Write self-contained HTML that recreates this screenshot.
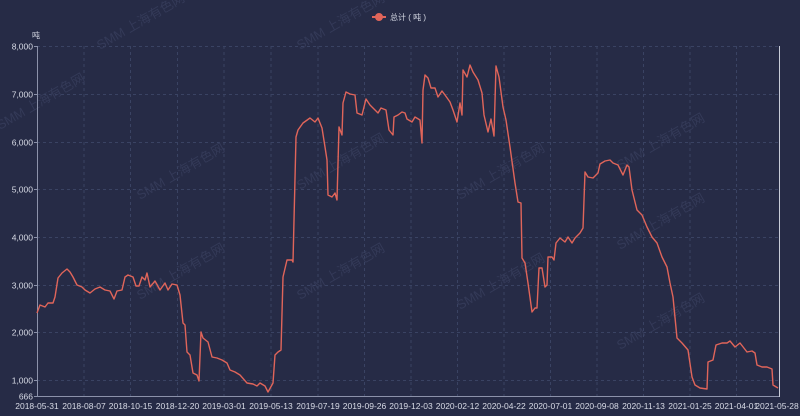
<!DOCTYPE html>
<html><head><meta charset="utf-8"><style>
html,body{margin:0;padding:0;background:#262b46;}
svg{display:block;font-family:"Liberation Sans","Noto Sans CJK SC",sans-serif;}
</style></head><body>
<svg width="800" height="416" viewBox="0 0 800 416">
<rect width="800" height="416" fill="#262b46"/>
<g stroke="#3a4363" stroke-width="1" stroke-dasharray="3,3">
<line x1="37" y1="46.5" x2="779" y2="46.5"/><line x1="37" y1="94.5" x2="779" y2="94.5"/><line x1="37" y1="142.5" x2="779" y2="142.5"/><line x1="37" y1="189.5" x2="779" y2="189.5"/><line x1="37" y1="237.5" x2="779" y2="237.5"/><line x1="37" y1="285.5" x2="779" y2="285.5"/><line x1="37" y1="332.5" x2="779" y2="332.5"/><line x1="37" y1="380.5" x2="779" y2="380.5"/>
<line x1="84" y1="46" x2="84" y2="396"/><line x1="130.5" y1="46" x2="130.5" y2="396"/><line x1="177.5" y1="46" x2="177.5" y2="396"/><line x1="224" y1="46" x2="224" y2="396"/><line x1="271" y1="46" x2="271" y2="396"/><line x1="318" y1="46" x2="318" y2="396"/><line x1="364.5" y1="46" x2="364.5" y2="396"/><line x1="411" y1="46" x2="411" y2="396"/><line x1="457.5" y1="46" x2="457.5" y2="396"/><line x1="504" y1="46" x2="504" y2="396"/><line x1="550.5" y1="46" x2="550.5" y2="396"/><line x1="597" y1="46" x2="597" y2="396"/><line x1="643.5" y1="46" x2="643.5" y2="396"/><line x1="690" y1="46" x2="690" y2="396"/><line x1="736.5" y1="46" x2="736.5" y2="396"/>
</g>
<g fill="#343a58" font-size="13">
<text transform="translate(100,50) rotate(-30)">SMM 上海有色网</text>
<text transform="translate(300,50) rotate(-30)">SMM 上海有色网</text>
<text transform="translate(0,130) rotate(-30)">SMM 上海有色网</text>
<text transform="translate(140,200) rotate(-30)">SMM 上海有色网</text>
<text transform="translate(300,190) rotate(-30)">SMM 上海有色网</text>
<text transform="translate(460,200) rotate(-30)">SMM 上海有色网</text>
<text transform="translate(620,170) rotate(-30)">SMM 上海有色网</text>
<text transform="translate(140,300) rotate(-30)">SMM 上海有色网</text>
<text transform="translate(300,300) rotate(-30)">SMM 上海有色网</text>
<text transform="translate(460,310) rotate(-30)">SMM 上海有色网</text>
<text transform="translate(620,250) rotate(-30)">SMM 上海有色网</text>
<text transform="translate(620,350) rotate(-30)">SMM 上海有色网</text>
</g>
<line x1="37.5" y1="46" x2="37.5" y2="397" stroke="#8c92aa" stroke-width="1"/>
<line x1="37" y1="396.5" x2="779" y2="396.5" stroke="#8c92aa" stroke-width="1"/>
<line x1="779.5" y1="46" x2="779.5" y2="397" stroke="#c8ccd8" stroke-width="1"/>
<g stroke="#8c92aa"><line x1="34" y1="46.5" x2="37" y2="46.5"/><line x1="34" y1="94.5" x2="37" y2="94.5"/><line x1="34" y1="142.5" x2="37" y2="142.5"/><line x1="34" y1="189.5" x2="37" y2="189.5"/><line x1="34" y1="237.5" x2="37" y2="237.5"/><line x1="34" y1="285.5" x2="37" y2="285.5"/><line x1="34" y1="332.5" x2="37" y2="332.5"/><line x1="34" y1="380.5" x2="37" y2="380.5"/><line x1="34" y1="396.5" x2="37" y2="396.5"/></g>
<g fill="#d8dbe6" font-size="8.5" text-anchor="end">
<text x="33" y="49.5">8,000</text><text x="33" y="97.5">7,000</text><text x="33" y="145.5">6,000</text><text x="33" y="192.5">5,000</text><text x="33" y="240.5">4,000</text><text x="33" y="288.5">3,000</text><text x="33" y="335.5">2,000</text><text x="33" y="383.5">1,000</text><text x="33" y="399.5">666</text>
</g>
<text x="32" y="38" fill="#d8dbe6" font-size="8">吨</text>
<g fill="#d8dbe6" font-size="8.5" text-anchor="middle">
<text x="37" y="409">2018-05-31</text><text x="84" y="409">2018-08-07</text><text x="130.5" y="409">2018-10-15</text><text x="177.5" y="409">2018-12-20</text><text x="224" y="409">2019-03-01</text><text x="271" y="409">2019-05-13</text><text x="318" y="409">2019-07-19</text><text x="364.5" y="409">2019-09-26</text><text x="411" y="409">2019-12-03</text><text x="457.5" y="409">2020-02-12</text><text x="504" y="409">2020-04-22</text><text x="550.5" y="409">2020-07-01</text><text x="597" y="409">2020-09-08</text><text x="643.5" y="409">2020-11-13</text><text x="690" y="409">2021-01-25</text><text x="736.5" y="409">2021-04-01</text><text x="777" y="409">2021-05-28</text>
</g>
<line x1="372" y1="17" x2="386" y2="17" stroke="#e0655a" stroke-width="2"/>
<circle cx="379" cy="17" r="4" fill="#e0655a"/>
<text x="390" y="20" fill="#d8dbe6" font-size="8">总计 ( 吨 )</text>
<polyline fill="none" stroke="#e0655a" stroke-width="1.4" stroke-linejoin="round" points="37,313 40,305 45,307 48,303 53,303 55,297 58,278 62,273 67,269 70,272 73,277 77,285 82,287 85,290 90,293 95,289 100,287 105,290 110,291 114,299 117,291 122,290 125,277 128,275 133,277 136,286 139,286 142,277 145,280 147,273 150,287 155,281 160,290 165,283 168,290 172,284 177,285 180,295 183,323 185,325 187,352 190,355 193,373 197,375 199,381 201,332 203,338 208,342 212,357 217,358 222,360 227,363 230,370 235,372 240,375 247,383 253,384 257,386 260,383 265,386 268,392 273,383 275,355 278,352 281,350 283,277 287,260 290,260 292,260 293,262 296,137 298,130 303,123 310,118 315,122 318,118 322,128 325,147 327,160 328,195 332,197 335,193 337,200 339,127 342,135 343,103 346,92 350,94 355,95 357,113 362,115 366,99 370,105 375,110 378,113 381,108 386,110 389,130 393,135 394,117 398,115 402,112 405,113 407,119 412,122 415,117 420,120 422,143 423,90 425,75 428,78 431,88 435,88 438,97 442,91 445,95 450,102 453,110 457,122 460,103 462,115 463,70 467,77 470,65 473,72 478,80 482,93 484,115 488,132 491,119 494,136 496,66 499,77 503,107 506,120 510,147 515,183 518,202 521,203 522,258 525,263 528,283 532,312 535,308 537,308 539,268 542,268 545,287 547,285 548,257 552,257 554,260 556,243 560,238 565,242 568,237 572,243 575,238 580,233 583,228 585,172 588,177 593,178 598,173 600,164 605,161 610,160 613,163 618,165 623,175 627,165 629,167 632,190 637,210 642,215 647,227 652,237 657,243 662,257 667,267 670,283 673,297 677,338 682,343 688,350 692,377 695,385 700,388 707,389 708,362 713,360 716,345 722,343 727,343 730,341 735,347 740,343 747,352 752,351 755,353 757,365 762,367 767,367 772,369 773,385 778,388"/>
</svg>
</body></html>
